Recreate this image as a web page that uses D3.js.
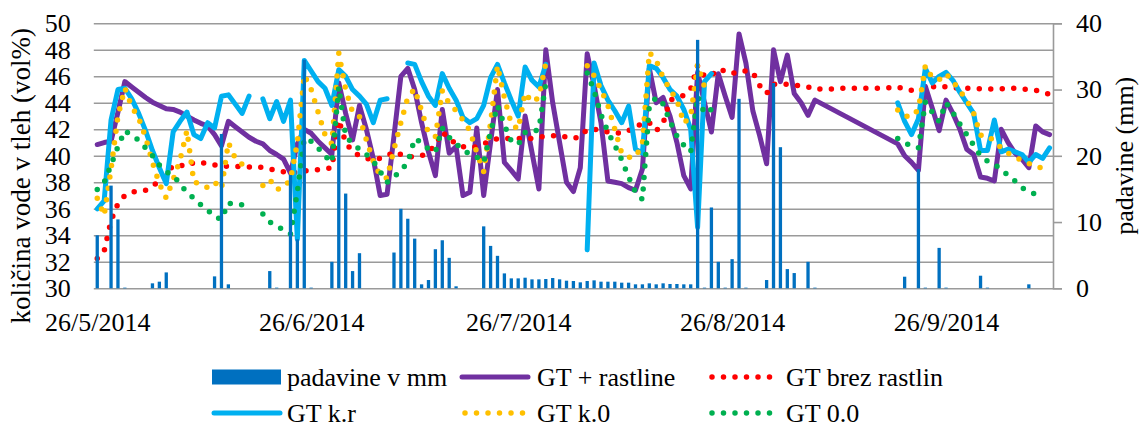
<!DOCTYPE html>
<html>
<head>
<meta charset="utf-8">
<script src="https://cdn.jsdelivr.net/npm/d3@7"></script>
<style>
  body { margin: 0; background: #fff; }
  svg { display: block; }
</style>
</head>
<body>
<svg id="chart" width="1141" height="431"></svg>
<script>
// Daily series, index 0 = 26/5/2014, index 138 = 11/10/2014
const firstDay = "2014-05-26";
const dayCount = 139;
const dateTicks = ["2014-05-26", "2014-06-26", "2014-07-26", "2014-08-26", "2014-09-26"];
const leftTicks = [30, 32, 34, 36, 38, 40, 42, 44, 46, 48, 50];
const rightTicks = [0, 10, 20, 30, 40];

// precipitation, mm (right axis)
const padavine = [
  8.0, 0, 15.5, 10.4, 0.1, 0, 0, 0, 0.75, 1.0,
  2.4, 0, 0, 0, 0, 0, 0, 1.8, 23.3, 0.6,
  0, 0, 0, 0, 0, 2.6, 0.1, 0, 17.1, 7.4,
  34.5, 0.1, 0, 0, 4.0, 24.1, 14.3, 2.6, 5.3, 0,
  0, 0, 0, 5.4, 12.0, 10.5, 7.5, 0.6, 1.25, 5.9,
  7.25, 4.6, 0.3, 0, 0, 0, 9.35, 6.4, 4.9, 2.25,
  1.5, 1.5, 1.6, 1.35, 1.35, 1.4, 1.55, 1.35, 1.15, 1.1,
  0.9, 1.1, 1.2, 1.0, 1.0, 1.0, 0.85, 0.85, 0.6, 0.6,
  0.75, 0.6, 0.75, 0.65, 0.65, 0.6, 0.6, 37.5, 0.1, 12.2,
  4.0, 0.1, 4.4, 28.6, 0.1, 0, 0, 1.25, 31.0, 21.3,
  2.9, 2.3, 0, 4.0, 0.1, 0, 0, 0, 0, 0,
  0, 0, 0, 0, 0, 0, 0, 1.75, 0, 18.0,
  0.1, 0, 6.1, 0.1, 0, 0, 0, 0, 1.9, 0.1,
  0, 0, 0, 0, 0, 0.6, 0, 0, 0
];

// soil water content, vol% (left axis); null = no reading
const gtRastline = [
  40.85, 41.0, 41.1, 43.3, 45.6, 45.2, 44.8, 44.4, 44.05, 43.8,
  43.55, 43.5, 43.3, 43.0, 42.7, 42.45, 42.25, 41.6, 40.75, 42.6,
  42.2, 41.8, 41.4, 41.1, 40.9, 40.4, 40.1, 39.75, 38.7, 40.9,
  42.0, 41.7, 41.1, 40.6, 40.1, 45.5, 43.2, 41.2, 43.8, 42.0,
  39.8, 37.0, 37.1, 41.5, 46.0, 46.6, 45.0, 42.5, 40.3, 38.5,
  43.5, 40.2, 40.7, 37.0, 37.25, 42.1, 37.0, 41.0, 45.0, 39.5,
  38.9, 38.25, 43.0, 40.25, 37.5, 48.0, 44.0, 41.0, 38.0, 37.3,
  39.1, 47.7, 45.3, 42.5, 38.1, 38.0, 37.9, 37.6, 37.4, 39.0,
  46.6, 44.0, 44.4, 43.0, 41.0, 38.5, 37.5, 46.3, 44.0, 41.8,
  46.2, 44.5, 42.9, 49.2, 47.0, 43.4, 41.5, 39.4, 48.0, 45.6,
  47.6, 44.7, 44.0, 43.05, 44.2, null, null, null, null, null,
  null, null, null, null, null, null, 40.9, 40.0, 39.5, 38.9,
  45.25, 43.6, 41.9, 44.2, 43.2, 42.0, 40.5, 40.1, 38.4, 38.3,
  38.1, 42.0, 41.0, 40.2, 39.75, 39.1, 42.25, 41.8, 41.6
];

const gtBrezRastlin = [
  32.25, 32.8, 35.1, 36.4, 37.0, 37.25, 37.35, 37.4, 37.7, 38.1,
  38.7, 39.25, 39.3, 39.2, 39.5, 39.5, 39.4, 39.3, 39.25, 39.2,
  39.2, 39.2, 39.15, 39.2, 39.1, 39.0, 38.9, 38.8, 38.7, 38.75,
  38.85, 38.95, 38.95, 39.0, 39.1, 42.7, 41.0, 40.3, 40.0, 39.8,
  39.7, 39.8, 40.0, 40.3, 40.1, 39.9, 39.95, 40.0, 40.3, 40.8,
  41.8, 41.3, 40.9, 40.7, 40.6, 40.7, 40.9, 41.1, 41.3, 41.3,
  41.3, 41.3, 41.3, 41.3, 41.4, 41.5, 41.5, 41.55, 41.4, 41.3,
  41.45, 42.0, 42.0, 41.95, 41.8, 41.75, 41.7, 41.9, 42.1, 42.5,
  42.5, 41.9, 42.45, 44.2, 44.4, 44.55, 45.05, 46.8, 46.0, 46.05,
  46.55, 46.4, 46.2, 46.4, 46.4, 46.3, 45.3, 44.7, 45.4, 45.4,
  45.4, 45.35, 45.25, 45.2, 45.0, 45.05, 45.05, 45.05, 45.1, 45.1,
  45.1, 45.1, 45.1, 45.1, 45.1, 45.15, 45.2, 45.0, 44.95, 44.9,
  45.1, 45.2, 45.3, 45.2, 45.15, 45.1, 45.1, 45.1, 45.05, 45.05,
  45.05, 45.05, 45.1, 45.1, 45.05, 45.0, 44.95, 44.8, 44.65
];

const gtKR = [
  36.0, 36.6, 42.7, 45.0, 45.1, 44.3, 43.2, 41.9, 40.4, 39.1,
  37.9, 41.8, 42.6, 43.3, 41.6, 41.3, 42.5, 42.1, 44.5, 44.6,
  43.9, 43.2, 44.5, null, 44.3, 42.8, 44.1, 42.6, 44.2, 33.7,
  47.2, 46.4, 45.6, 45.1, 43.8, 46.5, 46.0, 45.0, 44.5, 43.9,
  42.5, 44.2, 44.3, null, null, 47.0, 46.9, 45.6, 44.5, 43.8,
  46.2, 45.1, 44.2, 42.9, 42.5, 42.8, 43.8, 45.9, 46.9, 45.5,
  44.2, 43.0, 46.7, 45.7, 45.2, 46.9, null, null, null, null,
  null, 32.9, 47.0, 45.3, 44.2, 43.4, 42.5, 43.75, 40.5, 40.2,
  46.8, 46.6, 45.9, 45.0, 44.5, 43.5, 42.0, 34.6, 45.6, 46.2,
  null, null, null, null, null, null, null, null, null, null,
  null, null, null, null, null, null, null, null, null, null,
  null, null, null, null, null, null, 44.0, 42.6, 41.6, 42.8,
  46.6, 45.5, 46.0, 46.3, 45.7, 44.8, 44.0, 43.2, 40.4, 40.4,
  42.7, 40.3, 40.5, 40.3, 40.1, 39.5, 40.1, 39.8, 40.6
];

const gtK0 = [
  36.8, 35.5, 39.0, 43.0, 45.1, 43.7, 42.85, 41.4, 39.5, 37.9,
  36.8, 38.2, 39.7, 41.9, 38.0, 37.9, 37.6, 38.0, 37.5, 41.0,
  39.8, 39.35, 39.9, null, 37.75, 38.2, 37.45, 37.6, 38.2, 41.0,
  46.1, 45.0, 43.3, 41.6, 40.9, 47.75, 45.0, 43.3, 42.95, 41.2,
  39.6, 38.5, 38.3, 40.5, 42.5, 44.4, 45.05, 43.4, 41.7, 41.45,
  44.9, 43.95, 43.4, 42.7, 41.9, 40.25, 38.8, 42.5, 46.8, 44.4,
  42.4, 42.0, 44.75, 44.05, 44.4, 47.0, null, null, null, null,
  null, 46.8, 46.05, 45.0, 43.8, 42.0, 40.2, 39.9, 39.9, 40.9,
  47.8, 47.2, 45.9, 45.0, 44.2, 42.45, 43.0, 46.9, 45.2, null,
  null, null, null, null, null, null, null, null, null, null,
  null, null, null, null, null, null, null, null, null, null,
  null, null, null, null, null, null, 43.45, 43.0, 42.95, 43.5,
  46.8, 45.9, 45.75, 46.2, 45.6, 44.9, 44.2, 43.2, 41.55, 41.55,
  41.1, 40.6, 40.2, 39.9, 39.65, 39.4, 39.3, 39.0, 38.8
];

const gt00 = [
  37.45, 38.0, 39.3, 40.7, 41.9, 41.5, 41.2, 40.6, 40.0, 39.3,
  38.8, 38.5, 37.9, 37.2, 36.8, 36.3, 35.9, 35.4, 35.2, 36.45,
  36.3, 36.3, null, null, 35.6, 35.0, 34.7, 34.4, 34.1, 37.3,
  41.3, 41.1, 40.6, 40.0, 39.5, 45.2, 41.5, 40.9, 40.5, 40.1,
  39.6, 38.8, 38.0, 38.4, 38.9, 39.5, 41.3, 41.0, 40.5, 40.3,
  42.1, 41.4, 40.9, 40.5, 40.1, 39.9, 39.5, 41.8, 43.8, 42.3,
  41.1, 40.85, 41.75, 41.75, 42.0, 45.5, null, null, null, null,
  null, 46.25, 44.9, 43.1, 41.8, 40.8, 39.7, 38.4, 37.25, 36.7,
  43.8, 44.4, 43.9, 42.6, 41.5, 40.8, 40.3, 44.5, 43.2, 43.5,
  null, null, null, null, null, null, null, null, null, null,
  null, null, null, null, null, null, null, null, null, null,
  null, null, null, null, null, null, 41.3, 41.0, 40.7, 40.6,
  44.05, 43.3, 42.6, 44.0, 43.25, 42.4, 41.6, 40.8, 40.0, 39.6,
  39.35, 39.0, 38.5, 38.1, 37.6, 37.3, 37.1, 36.75, null
];

const seriesNames = ["padavine v mm", "GT + rastline", "GT brez rastlin", "GT k.r", "GT k.0", "GT 0.0"];

// ---- layout ----
const W = 1141, H = 431;
const plot = { left: 93.8, right: 1053, top: 23.3, bottom: 288.3 };
const DAY = 864e5;
const parse = d3.utcParse("%Y-%m-%d");
const t0 = parse(firstDay).getTime();
const dateOf = i => new Date(t0 + i * DAY);

const x = d3.scaleUtc()
  .domain([new Date(t0 - DAY / 2), new Date(t0 + (dayCount - 0.5) * DAY)])
  .range([plot.left, plot.right]);
const yL = d3.scaleLinear().domain([30, 50]).range([plot.bottom, plot.top]);
const yR = d3.scaleLinear().domain([0, 40]).range([plot.bottom, plot.top]);

const svg = d3.select("#chart");
svg.append("rect").attr("width", W).attr("height", H).attr("fill", "#fff");

const FONT = '"Liberation Serif", "Times New Roman", serif';
const FS = 26;
const GRID = "#9a9a9a";

const styleText = sel => sel
  .attr("font-size", FS)
  .attr("font-family", FONT)
  .attr("fill", "#000");

// horizontal gridlines
svg.append("g")
  .attr("transform", `translate(${plot.left},0)`)
  .call(d3.axisLeft(yL).tickValues(leftTicks).tickSize(-(plot.right - plot.left)).tickFormat(""))
  .call(g => g.select(".domain").remove())
  .call(g => g.selectAll("line").attr("stroke", GRID).attr("stroke-width", 1.6));

// left axis labels
svg.append("g")
  .attr("transform", `translate(${plot.left},0)`)
  .call(d3.axisLeft(yL).tickValues(leftTicks).tickSize(0).tickPadding(23))
  .call(g => g.select(".domain").remove())
  .call(g => styleText(g.selectAll("text")));

// right axis
svg.append("g")
  .attr("transform", `translate(${plot.right},0)`)
  .call(d3.axisRight(yR).tickValues(rightTicks).tickSizeOuter(0).tickSize(9).tickPadding(14))
  .call(g => g.select(".domain").attr("stroke", GRID).attr("stroke-width", 1.6))
  .call(g => g.selectAll("line").attr("stroke", GRID).attr("stroke-width", 1.6))
  .call(g => styleText(g.selectAll("text")));

// date axis
svg.append("g")
  .attr("transform", `translate(0,${plot.bottom})`)
  .call(d3.axisBottom(x).tickValues(dateTicks.map(parse)).tickFormat(d3.utcFormat("%-d/%-m/%Y")).tickSize(0).tickPadding(24))
  .call(g => g.select(".domain").remove())
  .call(g => styleText(g.selectAll("text")));

// axis titles
styleText(svg.append("text"))
  .attr("transform", `translate(30,${(plot.top + plot.bottom) / 2 + 20}) rotate(-90)`)
  .attr("text-anchor", "middle")
  .attr("font-size", 27)
  .text("količina vode v tleh (vol%)");
styleText(svg.append("text"))
  .attr("transform", `translate(1133,${(plot.top + plot.bottom) / 2}) rotate(-90)`)
  .attr("text-anchor", "middle")
  .text("padavine (mm)");

// ---- lines ----
const toPoints = arr => arr.map((v, i) => ({ i, v }));
const lineGen = d3.line()
  .defined(d => d.v != null)
  .x(d => x(dateOf(d.i)))
  .y(d => yL(d.v));

const solidStyle = { width: 5, dash: null };
const dotStyle = { width: 5.5, dash: "0 11.5" };

const lineSeries = [
  { name: seriesNames[1], data: toPoints(gtRastline).filter(d => d.v != null), color: "#7030A0", style: solidStyle },
  { name: seriesNames[2], data: toPoints(gtBrezRastlin), color: "#FF0000", style: dotStyle },
  { name: seriesNames[3], data: toPoints(gtKR), color: "#00B0F0", style: solidStyle },
  { name: seriesNames[4], data: toPoints(gtK0), color: "#FFC000", style: dotStyle },
  { name: seriesNames[5], data: toPoints(gt00), color: "#00B050", style: dotStyle }
];

const linesG = svg.append("g");
lineSeries.forEach(s => {
  linesG.append("path")
    .attr("d", lineGen(s.data))
    .attr("fill", "none")
    .attr("stroke", s.color)
    .attr("stroke-width", s.style.width)
    .attr("stroke-linejoin", "round")
    .attr("stroke-linecap", "round")
    .attr("stroke-dasharray", s.style.dash);
});

// ---- precipitation bars (secondary axis, drawn on top) ----
const barW = 3.3;
svg.append("g")
  .selectAll("rect")
  .data(toPoints(padavine).filter(d => d.v > 0))
  .join("rect")
  .attr("x", d => x(dateOf(d.i)) - barW / 2)
  .attr("width", barW)
  .attr("y", d => yR(d.v))
  .attr("height", d => yR(0) - yR(d.v))
  .attr("fill", "#0070C0");

// ---- legend ----
const legend = svg.append("g");
const legendItems = [
  { name: seriesNames[0], kind: "bar", color: "#0070C0", x: 212, y: 377, tx: 287 },
  { name: seriesNames[1], kind: "solid", color: "#7030A0", x: 460, y: 377, tx: 537 },
  { name: seriesNames[2], kind: "dot", color: "#FF0000", x: 710, y: 377, tx: 786 },
  { name: seriesNames[3], kind: "solid", color: "#00B0F0", x: 212, y: 413, tx: 287 },
  { name: seriesNames[4], kind: "dot", color: "#FFC000", x: 463, y: 413, tx: 537 },
  { name: seriesNames[5], kind: "dot", color: "#00B050", x: 710, y: 413, tx: 786 }
];
legendItems.forEach(it => {
  const g = legend.append("g");
  if (it.kind === "bar") {
    g.append("rect").attr("x", it.x).attr("y", it.y - 7.5).attr("width", 69).attr("height", 15).attr("fill", it.color);
  } else if (it.kind === "solid") {
    g.append("line").attr("x1", it.x + 2).attr("x2", it.x + 68).attr("y1", it.y).attr("y2", it.y)
      .attr("stroke", it.color).attr("stroke-width", 5).attr("stroke-linecap", "round");
  } else {
    g.append("line").attr("x1", it.x + 2).attr("x2", it.x + 62).attr("y1", it.y).attr("y2", it.y)
      .attr("stroke", it.color).attr("stroke-width", 5.5).attr("stroke-linecap", "round")
      .attr("stroke-dasharray", "0 11.5");
  }
  styleText(g.append("text")).attr("x", it.tx).attr("y", it.y + 9).text(it.name);
});
</script>
</body>
</html>
